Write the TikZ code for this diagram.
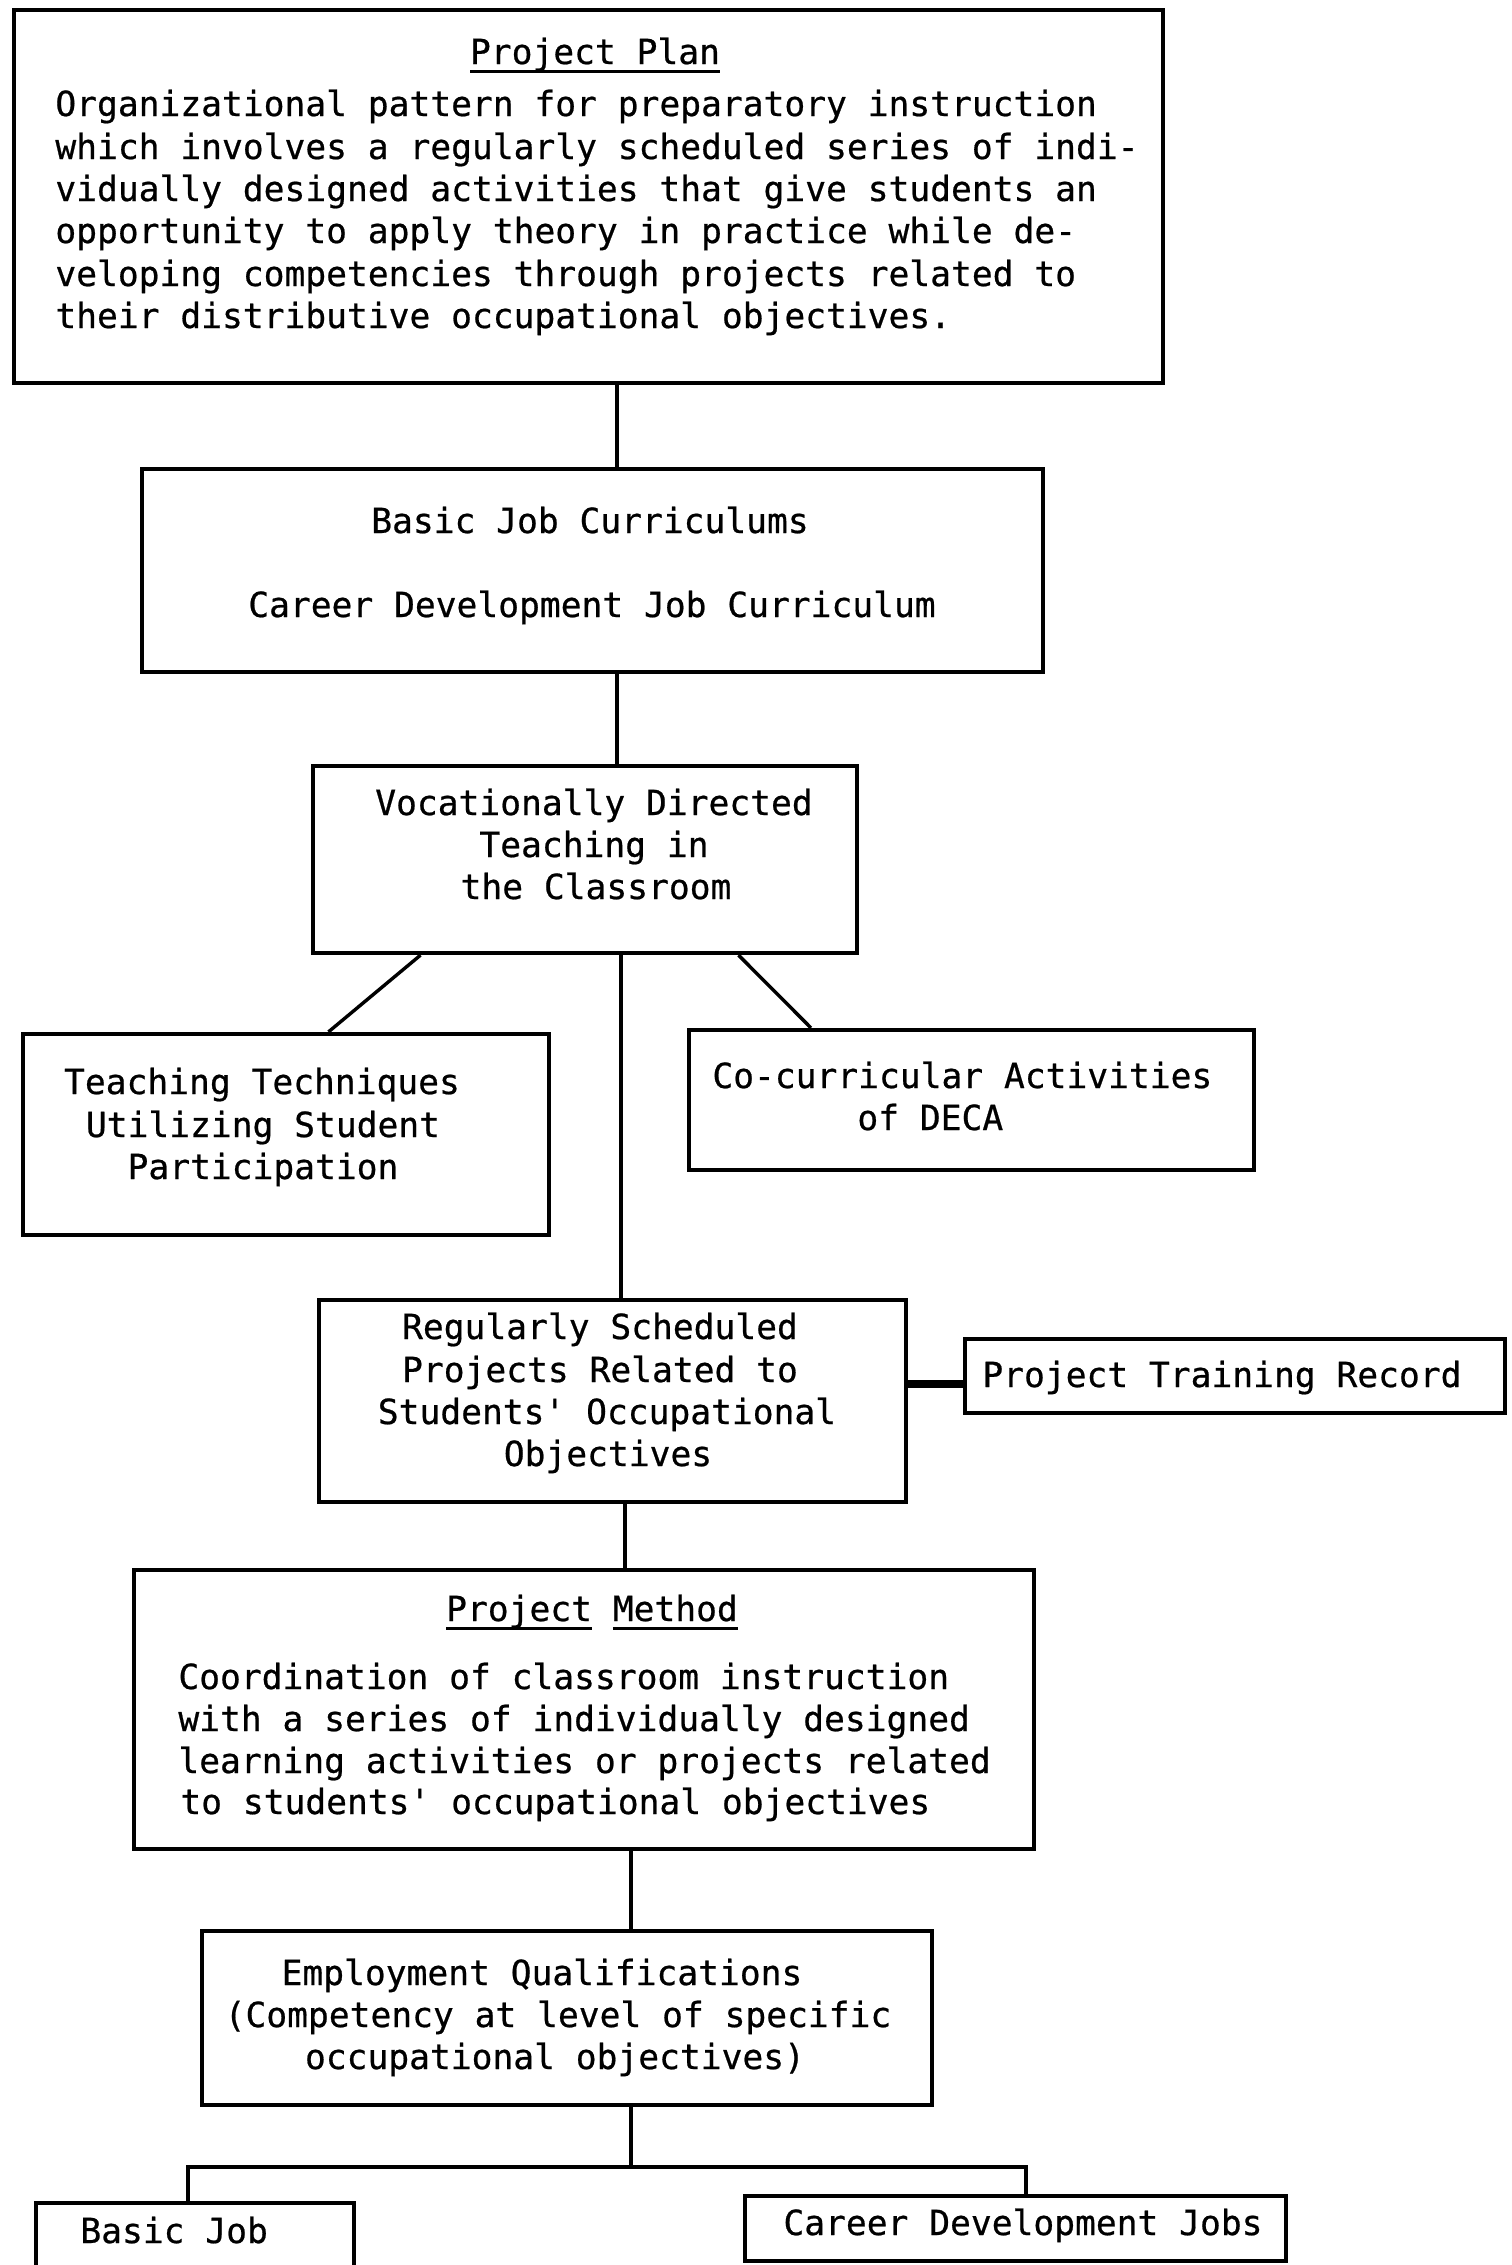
\documentclass[tikz,border=0pt]{standalone}
\usepackage{fontspec}
\newfontfamily\tw[FakeBold=0.6]{DejaVu Sans Mono}
\usetikzlibrary{fit,calc}
\newcommand\uline[1]{\setbox0\hbox{#1}\leavevmode\rlap{\rule[-4.5pt]{\wd0}{1.4pt}}\box0\relax}
\begin{document}
\begin{tikzpicture}[x=0.5pt,y=-0.5pt,
  box/.style={draw, line width=2.1pt, inner sep=0pt},
  conn/.style={line width=1.7pt},
  heavy/.style={line width=3.6pt},
  txt/.style={font=\tw\fontsize{17.3pt}{21pt}\selectfont, inner sep=0pt}]
\clip (0,0) rectangle (1511,2265);
\fill[white] (0,0) rectangle (1511,2265);

% boxes
\node[box, fit={(14,10)(1163,383)}] (b1) {};
\node[box, fit={(142,469)(1043,672)}] (b2) {};
\node[box, fit={(313,766)(857,953)}] (b3) {};
\node[box, fit={(23,1034)(549,1235)}] (b4) {};
\node[box, fit={(689,1030)(1254,1170)}] (b5) {};
\node[box, fit={(319,1300)(906,1502)}] (b6) {};
\node[box, fit={(965,1339)(1505,1413)}] (b7) {};
\node[box, fit={(134,1570)(1034,1849)}] (b8) {};
\node[box, fit={(202,1931)(932,2105)}] (b9) {};
\node[box, fit={(36,2203)(354,2320)}] (b10) {};
\node[box, fit={(745,2196)(1286,2261)}] (b11) {};

% texts box 1
\node[txt, anchor=base] (p0) at (595,64) {\uline{Project Plan}};
\node[txt, anchor=base west] (p1) at (55,116) {Organizational pattern for preparatory instruction};
\node[txt, anchor=base west] (p2) at (55,159) {which involves a regularly scheduled series of indi-};
\node[txt, anchor=base west] (p3) at (55,201) {vidually designed activities that give students an};
\node[txt, anchor=base west] (p4) at (55,243) {opportunity to apply theory in practice while de-};
\node[txt, anchor=base west] (p5) at (55,286) {veloping competencies through projects related to};
\node[txt, anchor=base west] (p6) at (55,328) {their distributive occupational objectives.};

% box 2
\node[txt, anchor=base] (q1) at (590,533) {Basic Job Curriculums};
\node[txt, anchor=base] (q2) at (592,617) {Career Development Job Curriculum};

% box 3
\node[txt, anchor=base] (r1) at (594,815) {Vocationally Directed};
\node[txt, anchor=base] (r2) at (594,857) {Teaching in};
\node[txt, anchor=base] (r3) at (596,899) {the Classroom};

% box 4
\node[txt, anchor=base] (s1) at (262,1094) {Teaching Techniques};
\node[txt, anchor=base] (s2) at (263,1137) {Utilizing Student};
\node[txt, anchor=base] (s3) at (263,1179) {Participation};

% box 5
\node[txt, anchor=base west] (u1) at (712,1088) {Co-curricular Activities};
\node[txt, anchor=base west] (u2) at (857,1130) {of DECA};

% box 6
\node[txt, anchor=base] (v1) at (600,1339) {Regularly Scheduled};
\node[txt, anchor=base] (v2) at (600,1382) {Projects Related to};
\node[txt, anchor=base] (v3) at (607,1424) {Students' Occupational};
\node[txt, anchor=base] (v4) at (608,1466) {Objectives};

% box 7
\node[txt, anchor=base west] (w1) at (982,1387) {Project Training Record};

% box 8
\node[txt, anchor=base] (m0) at (592,1621) {\uline{Project} \uline{Method}};
\node[txt, anchor=base west] (m1) at (178,1689) {Coordination of classroom instruction};
\node[txt, anchor=base west] (m2) at (178,1731) {with a series of individually designed};
\node[txt, anchor=base west] (m3) at (178,1773) {learning activities or projects related};
\node[txt, anchor=base west] (m4) at (180,1814) {to students' occupational objectives};

% box 9
\node[txt, anchor=base] (e1) at (542,1985) {Employment Qualifications};
\node[txt, anchor=base] (e2) at (558,2027) {(Competency at level of specific};
\node[txt, anchor=base] (e3) at (555,2069) {occupational objectives)};

% box 10, 11
\node[txt, anchor=base west] (f1) at (80,2243) {Basic Job};
\node[txt, anchor=base] (g1) at (1023,2235) {Career Development Jobs};

% connector coordinates
\coordinate (x1) at (617,0);
\coordinate (x2) at (621,0);
\coordinate (x3) at (625,0);
\coordinate (x4) at (631,0);
\coordinate (ky) at (0,1384);
\coordinate (jm) at (631,2167);
\coordinate (jl) at (188,2167);
\coordinate (jr) at (1026,2167);

\draw[conn] (x1 |- b1.south) -- (x1 |- b2.north);
\draw[conn] (x1 |- b2.south) -- (x1 |- b3.north);
\draw[conn] (x2 |- b3.south) -- (x2 |- b6.north);
\draw[conn] ($(b3.south west)!0.2!(b3.south east)$) -- ($(b4.north west)!0.58!(b4.north east)$);
\draw[conn] ($(b3.south west)!0.78!(b3.south east)$) -- ($(b5.north west)!0.218!(b5.north east)$);
\draw[heavy] (b6.east |- ky) -- (b7.west |- ky);
\draw[conn] (x3 |- b6.south) -- (x3 |- b8.north);
\draw[conn] (x4 |- b8.south) -- (x4 |- b9.north);
\draw[conn] (x4 |- b9.south) -- (jm);
\draw[conn, line width=2.2pt, line join=miter] (jl |- b10.north) -- (jl) -- (jm) -- (jr) -- (jr |- b11.north);
\end{tikzpicture}
\end{document}
